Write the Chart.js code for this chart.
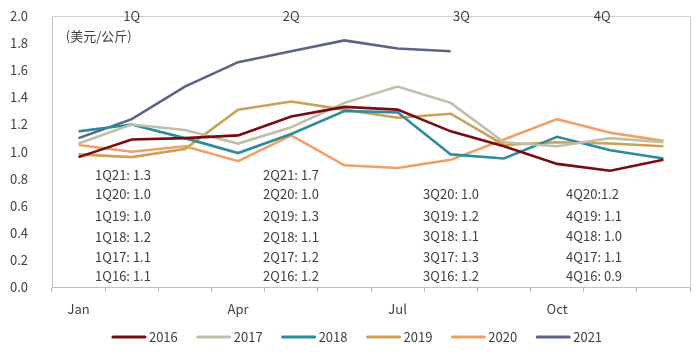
<!DOCTYPE html>
<html>
<head>
<meta charset="utf-8">
<script src="https://cdn.jsdelivr.net/npm/chart.js@4.4.0/dist/chart.umd.min.js"></script>
<style>
html,body{margin:0;padding:0;background:#fff;}
#wrap{width:700px;height:354px;}
</style>
</head>
<body>
<div id="wrap"><canvas id="c" width="700" height="354"></canvas></div>
<script>
const months = ['Jan','Feb','Mar','Apr','May','Jun','Jul','Aug','Sep','Oct','Nov','Dec'];
const shownMonths = ['Jan','Apr','Jul','Oct'];
const years = ['2016','2017','2018','2019','2020','2021'];
const colors = ['#7a0c10','#bfbfac','#2e8b9c','#c9a255','#f0a063','#5b6487'];

const s2016 = [0.96,1.09,1.10,1.12,1.26,1.33,1.31,1.15,1.04,0.91,0.86,0.94];
const s2017 = [1.06,1.20,1.16,1.06,1.18,1.36,1.48,1.36,1.07,1.04,1.10,1.07];
const s2018 = [1.15,1.20,1.10,0.99,1.13,1.30,1.29,0.98,0.95,1.11,1.01,0.95];
const s2019 = [0.98,0.96,1.02,1.31,1.37,1.31,1.25,1.28,1.05,1.07,1.06,1.04];
const s2020 = [1.05,1.00,1.04,0.93,1.12,0.90,0.88,0.94,1.09,1.24,1.14,1.08];
const s2021 = [1.10,1.24,1.48,1.66,1.74,1.82,1.76,1.74,null,null,null,null];
const series = [s2016,s2017,s2018,s2019,s2020,s2021];

const yTicks = [0,0.2,0.4,0.6,0.8,1.0,1.2,1.4,1.6,1.8,2.0];

const quarterLabels = ['1Q','2Q','3Q','4Q'];
const quarterPos = [1,4,7.2,9.85];

const noteCol1 = ['1Q21: 1.3','1Q20: 1.0','1Q19: 1.0','1Q18: 1.2','1Q17: 1.1','1Q16: 1.1'];
const noteCol2 = ['2Q21: 1.7','2Q20: 1.0','2Q19: 1.3','2Q18: 1.1','2Q17: 1.2','2Q16: 1.2'];
const noteCol3 = ['3Q20: 1.0','3Q19: 1.2','3Q18: 1.1','3Q17: 1.3','3Q16: 1.2'];
const noteCol4 = ['4Q20:1.2','4Q19: 1.1','4Q18: 1.0','4Q17: 1.1','4Q16: 0.9'];
const noteColumns = [noteCol1,noteCol2,noteCol3,noteCol4];
const noteColX = [0.31,3.47,6.48,9.17];
const noteRowY6 = [0.83,0.69,0.525,0.37,0.22,0.08];
const noteRowY5 = [0.69,0.525,0.375,0.22,0.085];
const unitLabel = '(美元/公斤)';

const FONT = '"Noto Sans CJK SC", "Noto Sans", sans-serif';
const TXT = '#404040';

const annot = {
  id:'annot',
  afterDraw(chart){
    const ctx = chart.ctx, x = chart.scales.x, y = chart.scales.y, a = chart.chartArea;
    ctx.save();
    // plot border (top & right)
    ctx.strokeStyle = '#d0d0d0';
    ctx.lineWidth = 1;
    ctx.beginPath();
    ctx.moveTo(a.left, a.top+0.5); ctx.lineTo(a.right+0.5, a.top+0.5); ctx.lineTo(a.right+0.5, a.bottom);
    ctx.stroke();
    ctx.font = '13px ' + FONT;
    ctx.fillStyle = TXT;
    ctx.textBaseline = 'middle';
    ctx.textAlign = 'center';
    quarterLabels.forEach((q,i)=>{
      ctx.fillText(q, x.getPixelForValue(quarterPos[i]), a.top);
    });
    ctx.textAlign = 'left';
    ctx.fillText(unitLabel, x.getPixelForValue(-0.24), y.getPixelForValue(1.85));
    noteColumns.forEach((col,ci)=>{
      const rows = col.length === 6 ? noteRowY6 : noteRowY5;
      col.forEach((t,ri)=>{
        ctx.fillText(t, x.getPixelForValue(noteColX[ci]), y.getPixelForValue(rows[ri]));
      });
    });
    // legend
    const lineW = 34, gap = 3, itemGap = 19;
    const items = chart.data.datasets.map(d=>({t:d.label,c:d.borderColor,w:ctx.measureText(d.label).width}));
    const total = items.reduce((s,it)=>s+lineW+gap+it.w,0) + itemGap*(items.length-1);
    let cx = chart.width/2 + 7 - total/2;
    const ly = chart.height - 17;
    ctx.lineCap = 'round';
    ctx.lineWidth = 3;
    items.forEach(it=>{
      ctx.strokeStyle = it.c;
      ctx.beginPath(); ctx.moveTo(cx+1, ly); ctx.lineTo(cx+lineW-1, ly); ctx.stroke();
      ctx.fillStyle = TXT;
      ctx.fillText(it.t, cx+lineW+gap, ly);
      cx += lineW + gap + it.w + itemGap;
    });
    ctx.restore();
  }
};

new Chart(document.getElementById('c'), {
  type:'line',
  data:{
    labels: months,
    datasets: years.map((yr,i)=>({
      label: yr,
      data: series[i],
      borderColor: colors[i],
      backgroundColor: colors[i],
      borderWidth: 2.6,
      pointRadius: 0,
      tension: 0,
      fill: false,
      spanGaps: false
    }))
  },
  options:{
    responsive:false,
    animation:false,
    layout:{padding:{top:16,right:10,left:0,bottom:28}},
    plugins:{
      legend:{display:false},
      tooltip:{enabled:false}
    },
    scales:{
      x:{
        offset:true,
        afterFit(s){ s.paddingLeft = 0; s.paddingRight = 0; },
        grid:{display:true,drawOnChartArea:false,offset:true,tickLength:5,color:'#bfbfbf'},
        border:{display:true,color:'#bfbfbf'},
        ticks:{
          autoSkip:false,maxRotation:0,padding:9,
          font:{family:FONT,size:13},color:TXT,
          callback(v,i){ const m = months[i]; return shownMonths.includes(m) ? m : ''; }
        }
      },
      y:{
        min:0,max:2,
        afterBuildTicks(s){ s.ticks = yTicks.map(v=>({value:v})); },
        afterFit(s){ s.width = 52; s.paddingTop = 0; s.paddingBottom = 0; },
        grid:{display:false},
        border:{display:true,color:'#bfbfbf'},
        ticks:{padding:16,font:{family:FONT,size:13},color:TXT,callback:v=>v.toFixed(1)}
      }
    }
  },
  plugins:[annot]
});
</script>
</body>
</html>
